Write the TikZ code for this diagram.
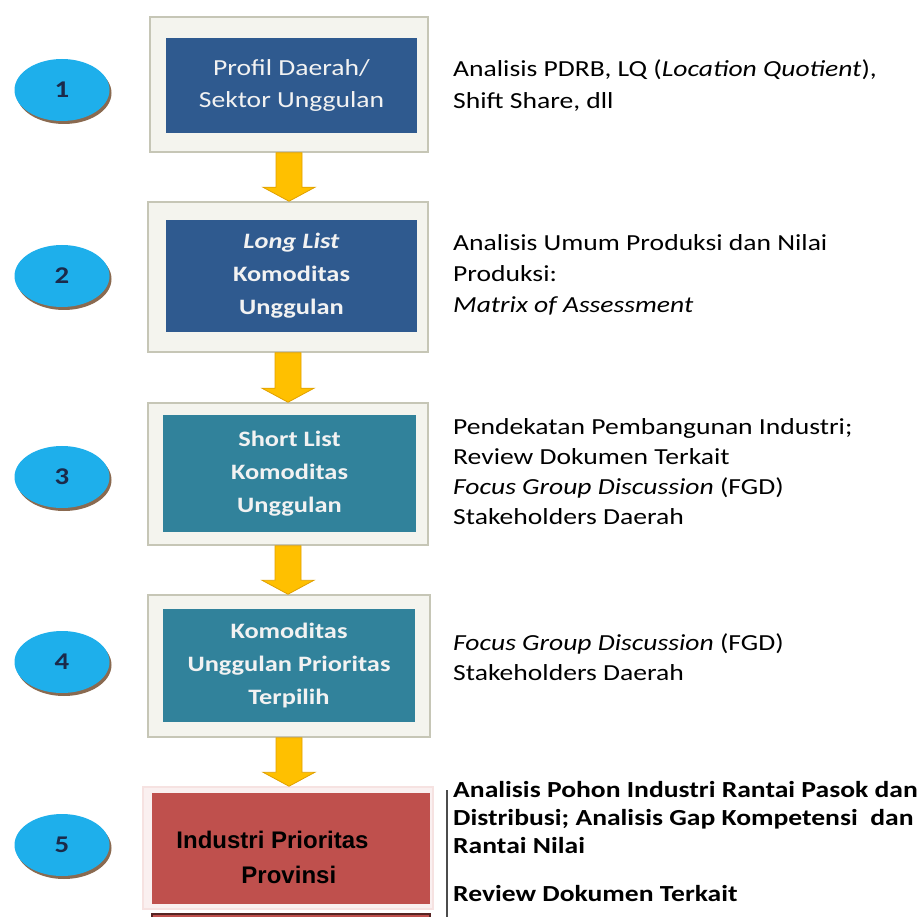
\documentclass[tikz,border=0pt]{standalone}
\usepackage{fontspec}
\usepackage{tikz}
\usetikzlibrary{shapes.geometric,shadows,calc}

\newfontfamily\notefont[FakeStretch=1.2]{Carlito}
\newfontfamily\labelfont{Liberation Sans}

\definecolor{navybox}{HTML}{2F5A8F}
\definecolor{tealbox}{HTML}{31829B}
\definecolor{redbox}{HTML}{BF504D}
\definecolor{framefill}{HTML}{F4F4EE}
\definecolor{framegrey}{HTML}{C6C6B6}
\definecolor{pinkframe}{HTML}{F6E2E1}
\definecolor{ovalblue}{HTML}{1EAFEB}
\definecolor{ovalshadow}{HTML}{8A6A50}
\definecolor{numnavy}{HTML}{1B2A4A}
\definecolor{arrowgold}{HTML}{FFC000}
\definecolor{arrowedge}{HTML}{E0A000}

\begin{document}
\begin{tikzpicture}[
    x=1pt, y=-1pt,
    frame/.style={rectangle, draw=framegrey, fill=framefill, line width=1.5pt, inner sep=0pt},
    stepbox/.style={rectangle, inner sep=0pt, align=center, text=white!95!black,
        font=\notefont\bfseries\fontsize{22}{33}\selectfont},
    numberoval/.style={ellipse, fill=ovalblue, minimum width=95pt, minimum height=62pt,
        inner sep=0pt, text=numnavy, font=\notefont\bfseries\fontsize{24}{24}\selectfont,
        drop shadow={shadow xshift=2pt, shadow yshift=-3pt, fill=ovalshadow, opacity=1}},
    note/.style={anchor=north west, inner sep=0pt, align=left,
        font=\notefont\fontsize{23}{30}\selectfont},
    blockarrow/.style={draw=arrowedge, fill=arrowgold, line width=0.8pt,
        to path={let \p1=(\tikztostart), \p2=(\tikztotarget) in
            (\x1-13pt,\y1) -- (\x1-13pt,\y2+14pt) -- (\x1-26pt,\y2+14pt) -- (\x1,\y2)
            -- (\x1+26pt,\y2+14pt) -- (\x1+13pt,\y2+14pt) -- (\x1+13pt,\y1) -- cycle}}
]

\useasboundingbox (0,0) rectangle (922,917);
\clip (0,0) rectangle (922,917);

% outer frames
\node[frame, minimum width=278pt, minimum height=135pt] (o1) at (289,84.5) {};
\node[frame, minimum width=280pt, minimum height=150pt] (o2) at (288,277) {};
\node[frame, minimum width=280pt, minimum height=142pt] (o3) at (288,474) {};
\node[frame, minimum width=282pt, minimum height=142pt] (o4) at (289,666) {};
\node[frame, draw=pinkframe, fill=pinkframe!50!white, minimum width=290pt, minimum height=122pt] (o5) at (288,848) {};

% step boxes
\node[stepbox, fill=navybox, minimum width=251pt, minimum height=95pt,
    font=\notefont\fontsize{23}{32}\selectfont] (s1) at (291.5,85.5) {Profil Daerah/\\Sektor Unggulan};
\node[stepbox, fill=navybox, minimum width=251pt, minimum height=112pt] (s2) at (291.5,276) {\textit{Long List}\\Komoditas\\Unggulan};
\node[stepbox, fill=tealbox, minimum width=253pt, minimum height=117pt] (s3) at (289.5,473.5) {Short List\\Komoditas\\Unggulan};
\node[stepbox, fill=tealbox, minimum width=252pt, minimum height=113pt] (s4) at (289,665.5) {Komoditas\\Unggulan Prioritas\\Terpilih};
\node[rectangle, fill=redbox, inner sep=0pt, minimum width=278pt, minimum height=111pt] (s5) at (291,848.5) {};
\node[align=left, inner sep=0pt, font=\labelfont\bfseries\fontsize{24}{35}\selectfont] (p5) at (272.5,857.5)
    {Industri Prioritas\\\hspace*{65pt}Provinsi};

% next box, cut by the page edge
\node[rectangle, draw=redbox!45!black, fill=redbox, line width=1.5pt, minimum width=278pt,
    minimum height=20pt, anchor=north] (s6) at (291,913) {};

% step numbers
\node[numberoval] (n1) at (62,90) {1};
\node[numberoval] (n2) at (62,276) {2};
\node[numberoval] (n3) at (62,477) {3};
\node[numberoval] (n4) at (62,662) {4};
\node[numberoval] (n5) at (62,845) {5};

% arrows between the steps
\draw[blockarrow] (o1.south) to (o2.north);
\draw[blockarrow] (o2.south) to (o3.north);
\draw[blockarrow] (o3.south) to (o4.north);
\draw[blockarrow] (o4.south) to (o5.north);

% notes
\node[note, font=\notefont\fontsize{23}{32}\selectfont] (t1) at (453,59)
    {Analisis PDRB, LQ (\textit{Location Quotient}),\\Shift Share, dll};
\node[note, font=\notefont\fontsize{23}{31}\selectfont] (t2) at (453,234)
    {Analisis Umum Produksi dan Nilai\\Produksi:\\\textit{Matrix of Assessment}};
\node[note] (t3) at (453,418)
    {Pendekatan Pembangunan Industri;\\Review Dokumen Terkait\\\textit{Focus Group Discussion} (FGD)\\Stakeholders Daerah};
\node[note] (t4) at (453,633)
    {\textit{Focus Group Discussion} (FGD)\\Stakeholders Daerah};
\node[note, font=\notefont\bfseries\fontsize{23}{28}\selectfont] (t5) at (453,781)
    {Analisis Pohon Industri Rantai Pasok dan\\Distribusi; Analisis Gap Kompetensi\ \ dan\\Rantai Nilai\\[20pt]Review Dokumen Terkait};

% divider beside the last note
\coordinate (d1) at (447,790);
\coordinate (d2) at (447,917);
\draw[line width=1.5pt, black!70] (d1) -- (d2);

\end{tikzpicture}
\end{document}
